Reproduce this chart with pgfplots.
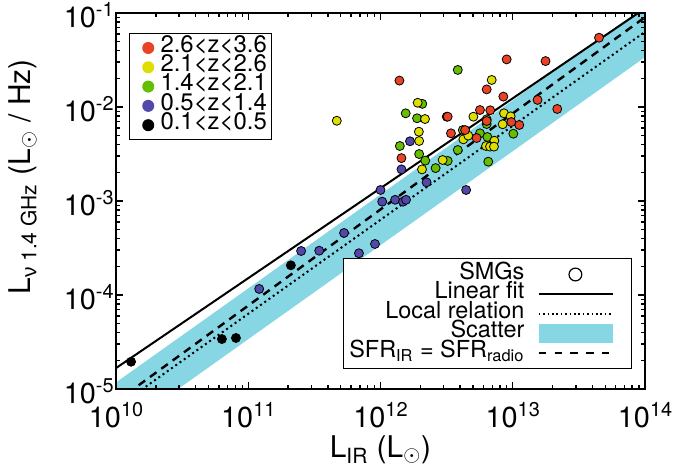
\documentclass[border=0pt]{standalone}
\usepackage{fontspec}
\setmainfont{TeX Gyre Heros}
\newfontfamily\grk{Liberation Sans}
\usepackage{pgfplots}
\pgfplotsset{compat=1.18}

\definecolor{zred}{RGB}{233,66,37}
\definecolor{zyel}{RGB}{222,222,0}
\definecolor{zgrn}{RGB}{102,190,0}
\definecolor{zblu}{RGB}{82,72,170}
\definecolor{band}{RGB}{134,214,228}

% tick label "10^n" in text font
\newcommand{\tl}[2]{#1\raisebox{5.7bp}{\fontsize{10}{10}\selectfont #2}}

\pgfplotsset{
  zpts/.style={only marks, mark=*, mark size=2.25bp,
    mark options={draw=black, fill=#1, line width=0.4bp}, forget plot},
}

\begin{document}
\begin{tikzpicture}
% axis 1: band, relations, frame and lower legend
\begin{axis}[
  at={(0,0)}, anchor=south west,
  scale only axis, width=264.5bp, height=188bp,
  xmode=log, ymode=log,
  xmin=1e10, xmax=1e14, ymin=1e-5, ymax=1e-1,
  axis on top,
  axis line style={line width=1bp},
  every tick/.append style={black, line width=0.7bp},
  major tick length=3.5bp, minor tick length=2bp,
  xtick={1e10,1e11,1e12,1e13,1e14},
  xticklabels={\tl{10}{10},\tl{10}{11},\tl{10}{12},\tl{10}{13},\tl{10}{14}},
  minor xtick={2e10,3e10,4e10,5e10,6e10,7e10,8e10,9e10,
    2e11,3e11,4e11,5e11,6e11,7e11,8e11,9e11,
    2e12,3e12,4e12,5e12,6e12,7e12,8e12,9e12,
    2e13,3e13,4e13,5e13,6e13,7e13,8e13,9e13},
  ytick={1e-5,1e-4,1e-3,1e-2,1e-1},
  yticklabels={\tl{10}{-5},\tl{10}{-4},\tl{10}{-3},\tl{10}{-2},\tl{10}{-1}},
  minor ytick={2e-5,3e-5,4e-5,5e-5,6e-5,7e-5,8e-5,9e-5,
    2e-4,3e-4,4e-4,5e-4,6e-4,7e-4,8e-4,9e-4,
    2e-3,3e-3,4e-3,5e-3,6e-3,7e-3,8e-3,9e-3,
    2e-2,3e-2,4e-2,5e-2,6e-2,7e-2,8e-2,9e-2},
  tick label style={font=\fontsize{14.5}{15}\selectfont},
  xticklabel style={anchor=north, inner sep=0pt, yshift=-6.5bp},
  yticklabel style={anchor=east, inner sep=0pt, xshift=-1bp, yshift=-1.2bp},
  label style={font=\fontsize{15}{16}\selectfont},
  xlabel={L\textsubscript{IR} (L$_\odot$)},
  xlabel style={at={(axis description cs:0.5,-0.162)}, anchor=center},
  ylabel={L\textsubscript{{\grk ν} 1.4 GHz} (L$_\odot$ / Hz)},
  ylabel style={at={(axis description cs:-0.176,0.564)}, anchor=center},
  legend plot pos=right,
  legend cell align=right,
  legend style={at={(axis description cs:0.976,0.0524)}, anchor=south east,
    draw=black, line width=0.6bp, inner sep=3bp, row sep=0pt, column sep=0pt,
    font=\fontsize{11.75}{12}\selectfont,
    nodes={inner sep=0pt, text height=7.2bp, text depth=2.6bp}},
]
\addplot[fill=band, draw=none, forget plot]
  coordinates {(1e10,1.175e-5) (1e14,0.1175) (1e14,3.39e-2) (1e10,3.39e-6)} -- cycle;
\addplot[black, line width=1bp, dash pattern=on 1bp off 1.6bp, forget plot]
  coordinates {(1e10,6.31e-6) (1e14,6.31e-2)};
\addplot[black, line width=1.2bp, dash pattern=on 4bp off 3bp, forget plot]
  coordinates {(1e10,7.33e-6) (1e14,9.02e-2)};
\addplot[black, line width=1bp, forget plot]
  coordinates {(1e10,1.67e-5) (1e14,0.112)};

\addlegendimage{legend image code/.code={\path[draw=none] (0bp,0bp) -- (50.65bp,0bp);
  \draw[black, line width=0.6bp] (25.5bp,0bp) circle (3.2bp);}}
\addlegendentry{SMGs}
\addlegendimage{legend image code/.code={\path[draw=none] (0bp,0bp) -- (50.65bp,0bp);
  \draw[black, line width=1bp] (7.15bp,0bp) -- (44.15bp,0bp);}}
\addlegendentry{Linear fit}
\addlegendimage{legend image code/.code={\path[draw=none] (0bp,0bp) -- (50.65bp,0bp);
  \draw[black, line width=0.8bp, dash pattern=on 0.8bp off 1.4bp] (7.15bp,0bp) -- (44.15bp,0bp);}}
\addlegendentry{Local relation}
\addlegendimage{legend image code/.code={\path[draw=none] (0bp,0bp) -- (50.65bp,0bp);
  \fill[band, draw=none] (7.15bp,-4.6bp) rectangle (44.15bp,4.6bp);}}
\addlegendentry{Scatter}
\addlegendimage{legend image code/.code={\path[draw=none] (0bp,0bp) -- (50.65bp,0bp);
  \draw[black, line width=1bp, dash pattern=on 3.7bp off 4.2bp] (7.15bp,0bp) -- (44.15bp,0bp);}}
\addlegendentry{SFR\textsubscript{IR} = SFR\textsubscript{radio}}
\end{axis}

% axis 2: the SMGs by redshift bin and upper legend
\begin{axis}[
  at={(0,0)}, anchor=south west,
  scale only axis, width=264.5bp, height=188bp,
  xmode=log, ymode=log,
  xmin=1e10, xmax=1e14, ymin=1e-5, ymax=1e-1,
  hide axis,
  legend style={at={(axis description cs:0.025,0.9476)}, anchor=north west,
    draw=black, line width=0.6bp, inner sep=2.5bp, row sep=0pt, column sep=0pt,
    font=\fontsize{12}{12}\selectfont,
    nodes={inner sep=0pt, text height=7bp, text depth=2.65bp}},
  legend cell align=left,
]
% 0.1<z<0.5
\addplot[zpts=black] coordinates {
  (1.30e10,1.95e-5) (2.10e11,2.07e-4) (6.32e10,3.40e-5) (8.07e10,3.49e-5)};
% 0.5<z<1.4
\addplot[zpts=zblu] coordinates {
  (1.67e12,4.32e-3) (1.44e12,2.17e-3) (2.23e12,1.58e-3) (4.44e12,1.31e-3)
  (1.00e12,1.31e-3) (1.03e12,9.84e-4) (1.29e12,1.03e-3) (1.48e12,9.84e-4)
  (1.56e12,1.03e-3) (5.30e11,4.57e-4) (3.44e11,2.96e-4) (2.51e11,2.94e-4)
  (6.87e11,2.78e-4) (9.08e11,3.49e-4) (1.21e11,1.16e-4)};
% 1.4<z<2.1
\addplot[zpts=zgrn] coordinates {
  (3.84e12,2.48e-2) (1.55e12,8.57e-3) (2.07e12,1.08e-2) (1.89e12,7.59e-3)
  (6.35e12,7.40e-3) (6.35e12,6.59e-3) (4.19e12,5.69e-3) (5.65e12,5.25e-3)
  (1.01e13,5.20e-3) (6.43e12,4.80e-3) (1.40e12,3.85e-3) (3.84e12,3.49e-3)
  (1.96e12,3.16e-3) (2.18e12,2.69e-3) (3.22e12,2.67e-3) (2.61e12,2.24e-3)
  (6.53e12,2.62e-3)};
% 2.1<z<2.6
\addplot[zpts=zyel] coordinates {
  (6.93e12,1.94e-2) (1.91e12,1.11e-2) (2.17e12,7.45e-3) (5.04e12,7.89e-3)
  (8.59e12,8.57e-3) (9.64e12,7.96e-3) (8.39e12,6.55e-3) (1.95e12,5.46e-3)
  (1.96e12,4.35e-3) (4.23e12,4.53e-3) (4.61e12,4.96e-3) (7.26e12,4.38e-3)
  (6.28e12,3.85e-3) (6.73e12,3.79e-3) (7.21e12,3.79e-3) (2.95e12,2.73e-3)
  (2.06e12,2.17e-3) (4.67e11,7.14e-3)};
% 2.6<z<3.6
\addplot[zpts=zred] coordinates {
  (4.49e13,5.46e-2) (8.99e12,3.21e-2) (1.77e13,3.08e-2) (1.39e12,1.91e-2)
  (6.35e12,1.54e-2) (8.49e12,1.29e-2) (1.54e13,1.19e-2) (2.17e13,9.53e-3)
  (5.65e12,9.29e-3) (6.76e12,9.23e-3) (3.17e12,7.89e-3) (3.22e12,7.89e-3)
  (6.35e12,7.10e-3) (9.75e12,6.92e-3) (1.12e13,6.44e-3) (3.41e12,5.25e-3)
  (4.36e12,5.69e-3) (5.33e12,4.68e-3) (1.44e12,2.86e-3)};

\addlegendimage{legend image code/.code={\path[draw=none] (-6.7bp,0bp) -- (6.15bp,0bp);
  \fill[zred, draw=none] (0bp,0bp) circle (3bp);}}
\addlegendentry{2.6<z<3.6}
\addlegendimage{legend image code/.code={\path[draw=none] (-6.7bp,0bp) -- (6.15bp,0bp);
  \fill[zyel, draw=none] (0bp,0bp) circle (3bp);}}
\addlegendentry{2.1<z<2.6}
\addlegendimage{legend image code/.code={\path[draw=none] (-6.7bp,0bp) -- (6.15bp,0bp);
  \fill[zgrn, draw=none] (0bp,0bp) circle (3bp);}}
\addlegendentry{1.4<z<2.1}
\addlegendimage{legend image code/.code={\path[draw=none] (-6.7bp,0bp) -- (6.15bp,0bp);
  \fill[zblu, draw=none] (0bp,0bp) circle (3bp);}}
\addlegendentry{0.5<z<1.4}
\addlegendimage{legend image code/.code={\path[draw=none] (-6.7bp,0bp) -- (6.15bp,0bp);
  \fill[black, draw=none] (0bp,0bp) circle (3bp);}}
\addlegendentry{0.1<z<0.5}
\end{axis}
\pgfresetboundingbox
\path[use as bounding box] (-58bp,-43bp) rectangle (279.5bp,194.5bp);
\end{tikzpicture}
\end{document}
